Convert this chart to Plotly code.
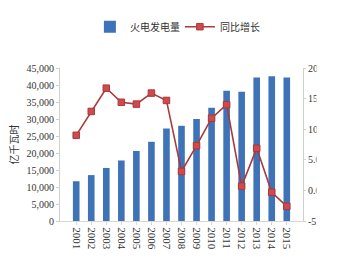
import plotly.graph_objects as go

years = [str(y) for y in range(2001, 2016)]
thermal_gen = [11700, 13500, 15600, 17800, 20600, 23300, 27200, 28000, 30000, 33300, 38300, 38000, 42200, 42600, 42200]
yoy_growth = [9.0, 12.9, 16.7, 14.4, 14.1, 15.9, 14.7, 3.1, 7.3, 11.8, 14.0, 0.7, 6.9, -0.3, -2.6]
left_ticks = list(range(0, 45001, 5000))
left_labels = [f"{v:,}" for v in left_ticks]
right_ticks = [-5, 0, 5, 10, 15, 20]
right_labels = ["-5.0", "0.0", "5.0", "10.0", "15.0", "20.0"]

serif = "Liberation Serif"
cjk = "Noto Sans CJK SC"

fig = go.Figure()
fig.add_trace(go.Bar(
    x=years, y=thermal_gen, name="火电发电量",
    marker=dict(color="#3F73B8", line=dict(width=0)),
    yaxis="y",
))
fig.add_trace(go.Scatter(
    x=years, y=yoy_growth, name="同比增长", mode="lines+markers",
    line=dict(color="#A8393C", width=1.6),
    marker=dict(symbol="square", size=6.5, color="#D0494C", line=dict(color="#A8393C", width=1)),
    yaxis="y2",
))

fig.update_layout(
    width=360, height=265,
    margin=dict(l=60, r=57, t=40, b=44),
    paper_bgcolor="white", plot_bgcolor="white",
    bargap=0.56,
    showlegend=True,
    legend=dict(orientation="h", x=0.123, xanchor="left", y=1.27, yanchor="middle",
                font=dict(family=cjk, size=10, color="#333333"),
                itemwidth=30, entrywidth=45, tracegroupgap=0, bgcolor="rgba(0,0,0,0)"),
    xaxis=dict(
        type="category", tickangle=90,
        tickfont=dict(family=serif, size=11, color="#333333"),
        showline=True, linecolor="#E0D6C8", linewidth=1,
        ticks="outside", ticklen=3, tickcolor="#E0D6C8",
        showgrid=False,
    ),
    yaxis=dict(
        range=[0, 45000], tickvals=left_ticks, ticktext=left_labels,
        tickfont=dict(family=serif, size=10, color="#333333"),
        showline=True, linecolor="#D0D0D0", linewidth=1,
        ticks="outside", ticklen=3, tickcolor="#D0D0D0",
        showgrid=False, zeroline=False,
        title=dict(text="亿千瓦时", font=dict(family=cjk, size=10, color="#333333"), standoff=6),
    ),
    yaxis2=dict(
        range=[-5, 20], tickvals=right_ticks, ticktext=right_labels,
        overlaying="y", side="right",
        tickfont=dict(family=serif, size=10, color="#333333"),
        showline=True, linecolor="#D0D0D0", linewidth=1,
        ticks="outside", ticklen=2, tickcolor="#D0D0D0",
        showgrid=False, zeroline=False,
    ),
)

# the reference image is cropped at the right edge, hiding the ends of the right-axis labels
fig.add_shape(type="rect", xref="paper", yref="paper",
              x0=1.0 + 13.5 / 243, x1=1.0 + 57 / 243, y0=-0.3, y1=1.35,
              fillcolor="white", line=dict(width=0), layer="above")

fig.write_html("out.html")
